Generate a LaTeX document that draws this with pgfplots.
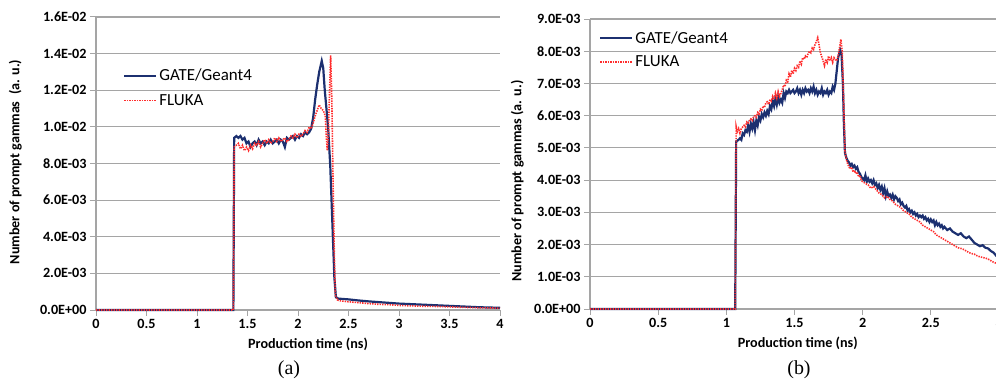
\documentclass[border=0pt]{standalone}
\usepackage{pgfplots}
\usepackage{pgfplotstable}
\pgfplotsset{compat=1.18}
\usepackage{fontspec}
\setmainfont{Carlito}
\newfontfamily\capfont{Liberation Serif}
\definecolor{gate}{RGB}{28,48,112}
\definecolor{fluka}{RGB}{255,45,45}
\definecolor{gridc}{RGB}{165,165,165}

\pgfplotstableread{
t v
0 0
1.36 0
1.368 9.4e-3
1.39 9.5e-3
1.41 9.4e-3
1.43 9.5e-3
1.45 9.3e-3
1.47 9.4e-3
1.49 9.1e-3
1.51 9.2e-3
1.53 8.9e-3
1.55 9.1e-3
1.57 9.2e-3
1.59 9.0e-3
1.61 9.3e-3
1.63 9.1e-3
1.65 9.2e-3
1.67 9.0e-3
1.69 9.2e-3
1.71 9.1e-3
1.73 9.3e-3
1.75 9.1e-3
1.77 9.2e-3
1.79 9.3e-3
1.81 9.1e-3
1.83 9.3e-3
1.85 9.2e-3
1.87 8.9e-3
1.89 9.4e-3
1.91 9.3e-3
1.93 9.4e-3
1.95 9.5e-3
1.97 9.3e-3
1.99 9.5e-3
2.01 9.4e-3
2.03 9.6e-3
2.05 9.5e-3
2.07 9.7e-3
2.09 9.6e-3
2.11 9.7e-3
2.13 9.9e-3
2.15 10.5e-3
2.17 11.5e-3
2.19 12.3e-3
2.21 13.0e-3
2.235 13.6e-3
2.25 13.2e-3
2.265 12.0e-3
2.28 11.1e-3
2.30 9.8e-3
2.32 7.8e-3
2.34 4.8e-3
2.36 1.8e-3
2.375 0.7e-3
2.40 0.62e-3
2.45 0.6e-3
2.50 0.58e-3
2.60 0.52e-3
2.70 0.47e-3
2.80 0.43e-3
2.90 0.39e-3
3.00 0.35e-3
3.20 0.30e-3
3.40 0.25e-3
3.60 0.20e-3
3.80 0.15e-3
4.00 0.12e-3
}\gateA

\pgfplotstableread{
t v
0 0
1.36 0
1.368 8.9e-3
1.39 9.0e-3
1.41 9.1e-3
1.43 8.8e-3
1.45 9.0e-3
1.47 8.7e-3
1.49 8.9e-3
1.51 8.7e-3
1.53 9.0e-3
1.55 8.8e-3
1.57 9.1e-3
1.59 9.0e-3
1.61 9.2e-3
1.63 8.9e-3
1.65 9.1e-3
1.67 9.3e-3
1.69 9.1e-3
1.71 9.3e-3
1.73 9.1e-3
1.75 9.2e-3
1.77 9.4e-3
1.79 9.2e-3
1.81 9.4e-3
1.83 9.2e-3
1.85 9.3e-3
1.87 9.4e-3
1.89 9.2e-3
1.91 9.3e-3
1.93 9.5e-3
1.95 9.4e-3
1.97 9.6e-3
1.99 9.4e-3
2.01 9.6e-3
2.03 9.5e-3
2.05 9.6e-3
2.07 9.8e-3
2.09 9.7e-3
2.11 10.0e-3
2.13 9.9e-3
2.15 10.2e-3
2.17 10.6e-3
2.19 10.9e-3
2.21 11.2e-3
2.23 11.0e-3
2.25 10.9e-3
2.27 10.6e-3
2.28 9.5e-3
2.29 8.7e-3
2.30 9.5e-3
2.31 11.5e-3
2.323 13.9e-3
2.335 11.5e-3
2.35 6.0e-3
2.36 3.0e-3
2.37 0.8e-3
2.39 0.55e-3
2.42 0.5e-3
2.50 0.45e-3
2.60 0.40e-3
2.70 0.35e-3
2.80 0.31e-3
2.90 0.29e-3
3.00 0.25e-3
3.20 0.21e-3
3.40 0.19e-3
3.60 0.15e-3
3.80 0.12e-3
4.00 0.10e-3
}\flukaA

\pgfplotstableread{
t v
0 0
1.065 0
1.072 5.2e-3
1.09 5.25e-3
1.10 5.3e-3
1.11 5.25e-3
1.12 5.45e-3
1.13 5.4e-3
1.14 5.55e-3
1.15 5.5e-3
1.16 5.7e-3
1.17 5.5e-3
1.18 5.75e-3
1.19 5.6e-3
1.20 5.8e-3
1.21 5.55e-3
1.22 5.85e-3
1.23 5.7e-3
1.24 5.95e-3
1.25 5.85e-3
1.26 6.05e-3
1.27 5.95e-3
1.28 6.1e-3
1.29 6.0e-3
1.30 6.15e-3
1.31 6.05e-3
1.32 6.3e-3
1.33 6.2e-3
1.34 6.45e-3
1.35 6.3e-3
1.36 6.55e-3
1.37 6.35e-3
1.38 6.6e-3
1.39 6.4e-3
1.40 6.5e-3
1.41 6.4e-3
1.42 6.7e-3
1.43 6.55e-3
1.44 6.75e-3
1.45 6.7e-3
1.46 6.8e-3
1.47 6.7e-3
1.48 6.75e-3
1.49 6.8e-3
1.50 6.7e-3
1.51 6.75e-3
1.52 6.85e-3
1.53 6.7e-3
1.54 6.8e-3
1.55 6.65e-3
1.56 6.8e-3
1.57 6.7e-3
1.58 6.85e-3
1.59 6.75e-3
1.60 6.8e-3
1.61 6.7e-3
1.62 6.85e-3
1.63 6.75e-3
1.64 6.9e-3
1.65 6.7e-3
1.66 6.8e-3
1.67 6.65e-3
1.68 6.75e-3
1.69 6.7e-3
1.70 6.85e-3
1.71 6.65e-3
1.72 6.75e-3
1.73 6.7e-3
1.74 6.8e-3
1.75 6.65e-3
1.76 6.75e-3
1.77 6.7e-3
1.78 6.9e-3
1.79 6.8e-3
1.80 7.0e-3
1.81 7.4e-3
1.82 7.8e-3
1.835 8.04e-3
1.845 7.9e-3
1.855 7.0e-3
1.862 5.8e-3
1.87 4.85e-3
1.88 4.7e-3
1.89 4.6e-3
1.90 4.55e-3
1.91 4.45e-3
1.92 4.5e-3
1.93 4.4e-3
1.94 4.45e-3
1.95 4.35e-3
1.96 4.4e-3
1.97 4.25e-3
1.98 4.2e-3
1.99 4.1e-3
2.00 4.05e-3
2.01 4.0e-3
2.02 4.15e-3
2.03 3.95e-3
2.04 4.05e-3
2.05 3.95e-3
2.06 4.0e-3
2.07 3.9e-3
2.08 4.0e-3
2.09 3.85e-3
2.10 3.9e-3
2.11 3.75e-3
2.12 3.85e-3
2.13 3.7e-3
2.14 3.8e-3
2.15 3.6e-3
2.16 3.75e-3
2.17 3.5e-3
2.18 3.65e-3
2.19 3.5e-3
2.20 3.55e-3
2.21 3.45e-3
2.22 3.55e-3
2.23 3.4e-3
2.24 3.5e-3
2.25 3.45e-3
2.26 3.35e-3
2.27 3.4e-3
2.28 3.25e-3
2.29 3.3e-3
2.30 3.2e-3
2.31 3.15e-3
2.32 3.2e-3
2.33 3.05e-3
2.34 3.1e-3
2.35 3.0e-3
2.36 3.05e-3
2.37 2.95e-3
2.38 3.0e-3
2.39 2.9e-3
2.40 2.95e-3
2.41 2.85e-3
2.42 2.9e-3
2.43 2.85e-3
2.44 2.9e-3
2.45 2.8e-3
2.46 2.85e-3
2.47 2.75e-3
2.48 2.8e-3
2.49 2.7e-3
2.50 2.78e-3
2.51 2.7e-3
2.52 2.75e-3
2.53 2.6e-3
2.54 2.7e-3
2.55 2.6e-3
2.56 2.65e-3
2.57 2.55e-3
2.58 2.6e-3
2.59 2.5e-3
2.60 2.55e-3
2.62 2.45e-3
2.64 2.5e-3
2.66 2.4e-3
2.68 2.35e-3
2.70 2.3e-3
2.72 2.35e-3
2.74 2.25e-3
2.76 2.2e-3
2.78 2.25e-3
2.80 2.15e-3
2.82 2.05e-3
2.84 2.0e-3
2.86 1.95e-3
2.88 1.98e-3
2.90 1.9e-3
2.92 1.88e-3
2.94 1.8e-3
2.96 1.75e-3
2.98 1.65e-3
3.00 1.62e-3
}\gateB

\pgfplotstableread{
t v
0 0
1.065 0
1.072 5.66e-3
1.08 5.5e-3
1.09 5.6e-3
1.10 5.45e-3
1.11 5.6e-3
1.12 5.65e-3
1.13 5.7e-3
1.14 5.65e-3
1.15 5.8e-3
1.16 5.75e-3
1.17 5.85e-3
1.18 5.9e-3
1.19 5.85e-3
1.20 5.97e-3
1.21 6.0e-3
1.22 5.95e-3
1.23 6.1e-3
1.24 6.05e-3
1.25 6.2e-3
1.26 6.15e-3
1.27 6.3e-3
1.28 6.25e-3
1.29 6.4e-3
1.30 6.43e-3
1.31 6.35e-3
1.32 6.5e-3
1.33 6.45e-3
1.34 6.6e-3
1.35 6.5e-3
1.36 6.7e-3
1.37 6.55e-3
1.38 6.75e-3
1.39 6.6e-3
1.40 6.69e-3
1.41 6.8e-3
1.42 6.95e-3
1.43 6.9e-3
1.44 7.1e-3
1.45 7.05e-3
1.46 7.3e-3
1.47 7.2e-3
1.48 7.4e-3
1.49 7.3e-3
1.50 7.47e-3
1.51 7.4e-3
1.52 7.55e-3
1.53 7.5e-3
1.54 7.7e-3
1.55 7.6e-3
1.56 7.8e-3
1.57 7.75e-3
1.58 7.85e-3
1.59 7.8e-3
1.60 7.93e-3
1.61 8.0e-3
1.62 7.95e-3
1.63 8.1e-3
1.64 8.05e-3
1.65 8.2e-3
1.66 8.3e-3
1.67 8.42e-3
1.68 8.2e-3
1.69 7.95e-3
1.70 7.83e-3
1.71 7.7e-3
1.72 7.55e-3
1.73 7.75e-3
1.74 7.65e-3
1.75 7.85e-3
1.76 7.7e-3
1.77 7.8e-3
1.78 7.65e-3
1.79 7.8e-3
1.80 7.75e-3
1.81 7.7e-3
1.82 7.85e-3
1.83 8.1e-3
1.84 8.37e-3
1.85 8.0e-3
1.86 6.5e-3
1.87 4.9e-3
1.88 4.65e-3
1.89 4.5e-3
1.90 4.4e-3
1.91 4.35e-3
1.92 4.4e-3
1.93 4.25e-3
1.94 4.3e-3
1.95 4.2e-3
1.96 4.25e-3
1.97 4.1e-3
1.98 4.15e-3
1.99 4.0e-3
2.00 3.95e-3
2.02 3.9e-3
2.04 3.85e-3
2.06 3.75e-3
2.08 3.8e-3
2.10 3.7e-3
2.12 3.6e-3
2.14 3.55e-3
2.16 3.45e-3
2.18 3.5e-3
2.20 3.4e-3
2.22 3.35e-3
2.24 3.25e-3
2.26 3.2e-3
2.28 3.15e-3
2.30 3.05e-3
2.32 3.0e-3
2.34 2.95e-3
2.36 2.85e-3
2.38 2.8e-3
2.40 2.75e-3
2.42 2.7e-3
2.44 2.6e-3
2.46 2.55e-3
2.48 2.5e-3
2.50 2.45e-3
2.52 2.4e-3
2.54 2.3e-3
2.56 2.25e-3
2.58 2.2e-3
2.60 2.15e-3
2.62 2.1e-3
2.64 2.05e-3
2.66 2.0e-3
2.68 1.95e-3
2.70 1.9e-3
2.72 1.88e-3
2.74 1.85e-3
2.76 1.8e-3
2.78 1.75e-3
2.80 1.72e-3
2.82 1.7e-3
2.84 1.65e-3
2.86 1.62e-3
2.88 1.6e-3
2.90 1.58e-3
2.92 1.55e-3
2.94 1.5e-3
2.96 1.45e-3
2.98 1.42e-3
3.00 1.42e-3
}\flukaB

\pgfplotsset{
  myax/.style={
    scale only axis,
    scaled y ticks=false, scaled x ticks=false,
    axis x line*=bottom, axis y line*=left,
    axis line style={gridc, line width=1.2bp},
    ymajorgrids, major grid style={gridc, line width=1.2bp},
    tick style={gridc, line width=1bp},
    major tick length=6bp, tick align=outside,
    ticklabel style={font=\fontsize{14.2}{16}\selectfont\bfseries},
    label style={font=\fontsize{14.2}{16}\selectfont\bfseries},
    legend style={draw=none, fill=none, inner sep=0pt,
      font=\fontsize{17}{20}\selectfont, row sep=8bp},
    legend cell align=left,
    legend image code/.code={\draw[##1] (0bp,0bp) -- (32bp,0bp);},
    clip=false,
  },
  gstyle/.style={gate, line width=2.2bp},
  fstyle/.style={fluka, line width=1.6bp, dash pattern=on 1.4bp off 1.1bp},
}

\begin{document}
\begin{tikzpicture}
\useasboundingbox (0,0) rectangle (996bp,383bp);
\begin{axis}[myax,
  at={(96bp,73bp)}, anchor=south west,
  width=404bp, height=293bp,
  xmin=0, xmax=4, ymin=0, ymax=0.016,
  xtick={0,0.5,1,1.5,2,2.5,3,3.5,4},
  xticklabels={0,0.5,1,1.5,2,2.5,3,3.5,4},
  ytick={0,0.002,0.004,0.006,0.008,0.01,0.012,0.014,0.016},
  yticklabels={0.0E+00,2.0E-03,4.0E-03,6.0E-03,8.0E-03,1.0E-02,1.2E-02,1.4E-02,1.6E-02},
  xlabel={Production time (ns)},
  ylabel={Number of prompt gammas\ \ (a. u.)},
  xlabel style={at={(axis description cs:0.525,-0.116)}, anchor=center},
  ylabel style={at={(axis description cs:-0.2,0.505)}, anchor=center},
  legend style={at={(axis description cs:0.067,0.83)}, anchor=north west},
]
\addplot[gstyle] table[x=t,y=v] {\gateA};
\addlegendentry{GATE/Geant4}
\addplot[fstyle] table[x=t,y=v] {\flukaA};
\addlegendentry{FLUKA}
\end{axis}
\begin{axis}[myax,
  at={(590bp,74bp)}, anchor=south west,
  width=409bp, height=290bp,
  xmin=0, xmax=3, ymin=0, ymax=0.009,
  xtick={0,0.5,1,1.5,2,2.5,3},
  xticklabels={0,0.5,1,1.5,2,2.5,3},
  ytick={0,0.001,0.002,0.003,0.004,0.005,0.006,0.007,0.008,0.009},
  yticklabels={0.0E+00,1.0E-03,2.0E-03,3.0E-03,4.0E-03,5.0E-03,6.0E-03,7.0E-03,8.0E-03,9.0E-03},
  xlabel={Production time (ns)},
  ylabel={Number of prompt gammas (a. u.)},
  xlabel style={at={(axis description cs:0.508,-0.118)}, anchor=center},
  ylabel style={at={(axis description cs:-0.178,0.441)}, anchor=center},
  legend style={at={(axis description cs:0.022,0.965)}, anchor=north west, row sep=7bp},
]
\addplot[gstyle] table[x=t,y=v] {\gateB};
\addlegendentry{GATE/Geant4}
\addplot[fstyle] table[x=t,y=v] {\flukaB};
\addlegendentry{FLUKA}
\end{axis}
\node[font=\capfont\fontsize{20}{23}\selectfont] at (289bp,13bp) {(a)};
\node[font=\capfont\fontsize{20}{23}\selectfont] at (799bp,13bp) {(b)};
\end{tikzpicture}
\end{document}
